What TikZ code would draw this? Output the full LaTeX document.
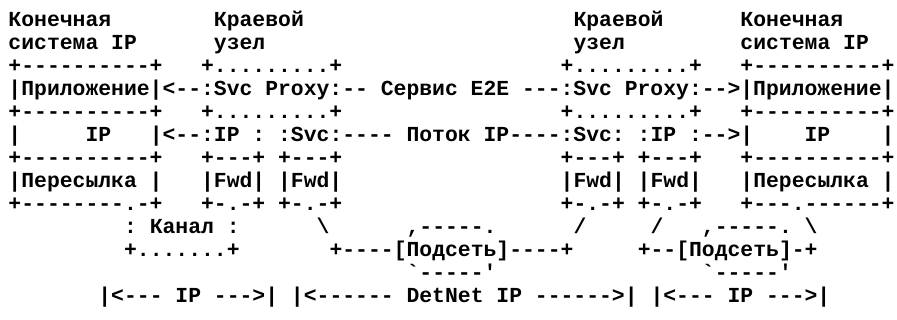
\documentclass[tikz,border=0pt]{standalone}
\usepackage{fontspec}
\setmonofont{Liberation Mono}
\usepackage{tikz}
\definecolor{ink}{RGB}{0,0,0}

\begin{document}
\begin{tikzpicture}[x=1pt,y=-1pt,
	ascii/.style={anchor=base west,inner sep=0pt,outer sep=0pt,text=ink,
		font=\ttfamily\bfseries\fontsize{21.4}{23}\selectfont}]
	\useasboundingbox (0,0) rectangle (897,320);
	% headings
	\node[ascii] (r1) at (8.5,27) {Конечная~~~~~~~~Краевой~~~~~~~~~~~~~~~~~~~~~Краевой~~~~~~Конечная};
	\node[ascii] (r2) at (8.5,50) {система~IP~~~~~~узел~~~~~~~~~~~~~~~~~~~~~~~~узел~~~~~~~~~система~IP};
	% stacks
	\node[ascii] (r3) at (8.5,73) {+----------+~~~+.........+~~~~~~~~~~~~~~~~~+.........+~~~+----------+};
	\node[ascii] (r4) at (8.5,96) {|Приложение|<--:Svc~Proxy:--~Сервис~E2E~---:Svc~Proxy:-->|Приложение|};
	\node[ascii] (r5) at (8.5,119) {+----------+~~~+.........+~~~~~~~~~~~~~~~~~+.........+~~~+----------+};
	\node[ascii] (r6) at (8.5,142) {|~~~~~IP~~~|<--:IP~:~:Svc:----~Поток~IP----:Svc:~:IP~:-->|~~~~IP~~~~|};
	\node[ascii] (r7) at (8.5,165) {+----------+~~~+---+~+---+~~~~~~~~~~~~~~~~~+---+~+---+~~~+----------+};
	\node[ascii] (r8) at (8.5,188) {|Пересылка~|~~~|Fwd|~|Fwd|~~~~~~~~~~~~~~~~~|Fwd|~|Fwd|~~~|Пересылка~|};
	\node[ascii] (r9) at (8.5,211) {+--------.-+~~~+-.-+~+-.-+~~~~~~~~~~~~~~~~~+-.-+~+-.-+~~~+---.------+};
	% links and subnets
	\node[ascii] (r10) at (8.5,234) {~~~~~~~~~:~Канал~:~~~~~~\textbackslash~~~~~~,-----.~~~~~~/~~~~~/~~~,-----.~\textbackslash};
	\node[ascii] (r11) at (8.5,257) {~~~~~~~~~+.......+~~~~~~~+----[Подсеть]----+~~~~~+--[Подсеть]-+};
	\node[ascii] (r12) at (8.5,280) {~~~~~~~~~~~~~~~~~~~~~~~~~~~~~~~`-----'~~~~~~~~~~~~~~~~`-----'};
	% scopes
	\node[ascii] (r13) at (8.5,303) {~~~~~~~|<---~IP~--->|~|<------~DetNet~IP~------>|~|<---~IP~--->|};
\end{tikzpicture}
\end{document}
